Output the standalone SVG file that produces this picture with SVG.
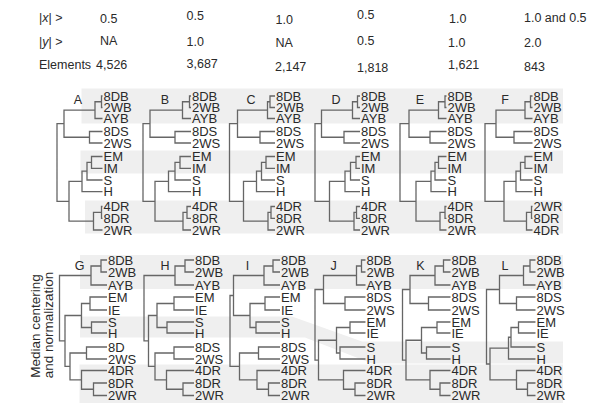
<svg xmlns="http://www.w3.org/2000/svg" width="600" height="412" viewBox="0 0 600 412">
<style>
text{font-family:"Liberation Sans",Arial,sans-serif;fill:#2a2a2a}
.hd{font-size:12.5px}
.lf{font-size:13px}
.pl{font-size:12.5px}
.ax{font-size:13.5px}
.band{fill:#efefef}
.tree{fill:none;stroke:#666;stroke-width:1.3}
</style>
<rect width="600" height="412" fill="#fff"/>
<g id="bands">
<rect class="band" x="81.5" y="88.5" width="481.5" height="35"/>
<rect class="band" x="80.5" y="150.5" width="482.5" height="23"/>
<rect class="band" x="85" y="200.5" width="478" height="33"/>
<rect class="band" x="80" y="255" width="483" height="34"/>
<path class="band" d="M80,316.5 H292 L362,341.5 H563 V363.5 H372 L305,337.5 H80 Z"/>
<rect class="band" x="79.5" y="364.5" width="483.5" height="38.5"/>
</g>
<g id="header" class="hd">
<text x="39" y="21.7">|<tspan font-style="italic">x</tspan>| &gt;</text>
<text x="100" y="22.7">0.5</text>
<text x="186.5" y="19.7">0.5</text>
<text x="275.5" y="23.7">1.0</text>
<text x="357" y="18.7">0.5</text>
<text x="449" y="22.7">1.0</text>
<text x="524" y="21.7">1.0 and 0.5</text>
<text x="39" y="45.7">|<tspan font-style="italic">y</tspan>| &gt;</text>
<text x="100" y="44.7">NA</text>
<text x="186.5" y="45.7">1.0</text>
<text x="275.5" y="46.7">NA</text>
<text x="357" y="44.7">0.5</text>
<text x="448" y="46.7">1.0</text>
<text x="524" y="46.7">2.0</text>
<text x="39" y="68.7">Elements</text>
<text x="96" y="68.7">4,526</text>
<text x="186.5" y="67.7">3,687</text>
<text x="275" y="70.7">2,147</text>
<text x="357" y="71.7">1,818</text>
<text x="448" y="68.7">1,621</text>
<text x="524" y="70.7">843</text>
</g>
<g id="side-label" class="ax" text-anchor="middle">
<text transform="translate(40,326) rotate(-90)">Median centering</text>
<text transform="translate(53,325) rotate(-90)">and normalization</text>
</g>
<g id="connectors" class="tree">
<path id="tree-A" d="M102.5,96 H101.5 V107.5 H102.5 M101.5,101.75 H95 V118.5 H102.5 M102.5,131.5 H89.5 V143 H102.5 M95,110.125 H64 V137.25 H89.5 M102.5,156.5 H91.5 V168.3 H102.5 M91.5,162.4 H87 V180 H102.5 M87,171.2 H82 V191.7 H102.5 M102.5,206.5 H101.5 V218.3 H102.5 M101.5,212.4 H93.5 V230 H102.5 M82,181.45 H69 V221.2 H93.5 M64,123.69 H57 V201.33 H69"/>
<path id="tree-B" d="M191,96 H189.5 V107.5 H191 M189.5,101.75 H182.5 V118.5 H191 M191,131.5 H175 V143 H191 M182.5,110.125 H150 V137.25 H175 M191,156.5 H180 V168.3 H191 M180,162.4 H175 V180 H191 M175,171.2 H168.5 V191.7 H191 M191,206.5 H187 V218.3 H191 M187,212.4 H183 V230 H191 M168.5,181.45 H155 V221.2 H183 M150,123.69 H143 V201.33 H155"/>
<path id="tree-C" d="M275,96 H270 V107.5 H275 M270,101.75 H267.5 V118.5 H275 M275,131.5 H260 V143 H275 M267.5,110.125 H237.5 V137.25 H260 M275,156.5 H266 V168.3 H275 M266,162.4 H261.5 V180 H275 M261.5,171.2 H256.5 V191.7 H275 M275,206.5 H271 V218.3 H275 M271,212.4 H268 V230 H275 M256.5,181.45 H243.5 V221.2 H268 M237.5,123.69 H229.5 V201.33 H243.5"/>
<path id="tree-D" d="M360,96 H357.5 V107.5 H360 M357.5,101.75 H352.5 V118.5 H360 M360,131.5 H344 V143 H360 M352.5,110.125 H321.5 V137.25 H344 M360,156.5 H356 V168.3 H360 M356,162.4 H350.5 V180 H360 M350.5,171.2 H345 V191.7 H360 M360,206.5 H356.5 V218.3 H360 M356.5,212.4 H354 V230 H360 M345,181.45 H329.5 V221.2 H354 M321.5,123.69 H315 V201.33 H329.5"/>
<path id="tree-E" d="M446.5,96 H445 V107.5 H446.5 M445,101.75 H438.5 V118.5 H446.5 M446.5,131.5 H430 V143 H446.5 M438.5,110.125 H409 V137.25 H430 M446.5,156.5 H438.5 V168.3 H446.5 M438.5,162.4 H435 V180 H446.5 M435,171.2 H431 V191.7 H446.5 M446.5,206.5 H445 V218.3 H446.5 M445,212.4 H440 V230 H446.5 M431,181.45 H416 V221.2 H440 M409,123.69 H400 V201.33 H416"/>
<path id="tree-F" d="M532.5,96 H530.5 V107.5 H532.5 M530.5,101.75 H525 V118.5 H532.5 M532.5,131.5 H514 V143 H532.5 M525,110.125 H496 V137.25 H514 M532.5,156.5 H525 V168.3 H532.5 M525,162.4 H520.5 V180 H532.5 M520.5,171.2 H516 V191.7 H532.5 M532.5,206.5 H531.5 V218.3 H532.5 M531.5,212.4 H526.5 V230 H532.5 M516,181.45 H504 V221.2 H526.5 M496,123.69 H485 V201.33 H504"/>
<path id="tree-G" d="M107,260 H101 V272 H107 M101,266 H91 V285 H107 M107,297 H90 V310 H107 M107,322 H91.5 V333 H107 M90,303.5 H81.5 V327.5 H91.5 M107,347 H86.5 V359 H107 M107,383 H93.5 V395.5 H107 M107,370.5 H81.5 V389.25 H93.5 M86.5,353 H70 V379.875 H81.5 M81.5,315.5 H65 V366.44 H70 M91,275.5 H59.5 V340.97 H65"/>
<path id="tree-H" d="M194,260 H185 V272 H194 M185,266 H175 V285 H194 M194,297 H174 V310 H194 M194,322 H167 V333 H194 M174,303.5 H157 V327.5 H167 M194,347 H174 V359 H194 M194,383 H183 V395.5 H194 M194,370.5 H166.5 V389.25 H183 M174,353 H155 V379.875 H166.5 M157,315.5 H148.5 V366.44 H155 M175,275.5 H144 V340.97 H148.5"/>
<path id="tree-I" d="M280,260 H273 V272 H280 M273,266 H264 V285 H280 M280,297 H265 V310 H280 M280,322 H256 V333 H280 M265,303.5 H250 V327.5 H256 M280,347 H258.5 V359 H280 M280,383 H268.5 V395.5 H280 M280,370.5 H257 V389.25 H268.5 M264,275.5 H233.5 V315.5 H250 M258.5,353 H239.5 V379.875 H257 M233.5,295.5 H230 V366.44 H239.5"/>
<path id="tree-J" d="M365.5,260 H361.5 V272 H365.5 M361.5,266 H356.5 V285 H365.5 M365.5,297 H345 V310 H365.5 M356.5,275.5 H323.5 V303.5 H345 M365.5,322 H350 V333 H365.5 M365.5,347 H340 V359 H365.5 M350,327.5 H336.5 V353 H340 M365.5,383 H355 V395.5 H365.5 M365.5,370.5 H343.5 V389.25 H355 M336.5,340.25 H318.5 V379.875 H343.5 M323.5,289.5 H315 V360.06 H318.5"/>
<path id="tree-K" d="M450.5,260 H443.5 V272 H450.5 M443.5,266 H435 V285 H450.5 M450.5,297 H428.5 V310 H450.5 M435,275.5 H410 V303.5 H428.5 M450.5,322 H437 V333 H450.5 M450.5,347 H426.5 V359 H450.5 M437,327.5 H421.5 V353 H426.5 M450.5,383 H440 V395.5 H450.5 M450.5,370.5 H430 V389.25 H440 M421.5,340.25 H406 V379.875 H430 M410,289.5 H402.5 V360.06 H406"/>
<path id="tree-L" d="M535.5,260 H530 V272 H535.5 M530,266 H523.5 V285 H535.5 M535.5,297 H516.5 V310 H535.5 M523.5,275.5 H499.5 V303.5 H516.5 M535.5,322 H518.5 V333 H535.5 M518.5,327.5 H511 V347 H535.5 M511,337.25 H508.5 V359 H535.5 M535.5,383 H527.5 V395.5 H535.5 M535.5,370.5 H516.5 V389.25 H527.5 M508.5,348.125 H490 V379.875 H516.5 M499.5,289.5 H486.5 V364 H490"/>
</g>
<g id="panel-A"><text class="pl" x="78" y="103.5" text-anchor="middle">A</text><text class="lf"><tspan x="103.5" y="100.6">8DB</tspan><tspan x="103.5" y="112.1">2WB</tspan><tspan x="103.5" y="123.1">AYB</tspan><tspan x="103.5" y="136.1">8DS</tspan><tspan x="103.5" y="147.6">2WS</tspan><tspan x="103.5" y="161.1">EM</tspan><tspan x="103.5" y="172.9">IM</tspan><tspan x="103.5" y="184.6">S</tspan><tspan x="103.5" y="196.3">H</tspan><tspan x="103.5" y="211.1">4DR</tspan><tspan x="103.5" y="222.9">8DR</tspan><tspan x="103.5" y="234.6">2WR</tspan></text></g>
<g id="panel-B"><text class="pl" x="165" y="103.5" text-anchor="middle">B</text><text class="lf"><tspan x="192" y="100.6">8DB</tspan><tspan x="192" y="112.1">2WB</tspan><tspan x="192" y="123.1">AYB</tspan><tspan x="192" y="136.1">8DS</tspan><tspan x="192" y="147.6">2WS</tspan><tspan x="192" y="161.1">EM</tspan><tspan x="192" y="172.9">IM</tspan><tspan x="192" y="184.6">S</tspan><tspan x="192" y="196.3">H</tspan><tspan x="192" y="211.1">4DR</tspan><tspan x="192" y="222.9">8DR</tspan><tspan x="192" y="234.6">2WR</tspan></text></g>
<g id="panel-C"><text class="pl" x="251" y="103.5" text-anchor="middle">C</text><text class="lf"><tspan x="276" y="100.6">8DB</tspan><tspan x="276" y="112.1">2WB</tspan><tspan x="276" y="123.1">AYB</tspan><tspan x="276" y="136.1">8DS</tspan><tspan x="276" y="147.6">2WS</tspan><tspan x="276" y="161.1">EM</tspan><tspan x="276" y="172.9">IM</tspan><tspan x="276" y="184.6">S</tspan><tspan x="276" y="196.3">H</tspan><tspan x="276" y="211.1">4DR</tspan><tspan x="276" y="222.9">8DR</tspan><tspan x="276" y="234.6">2WR</tspan></text></g>
<g id="panel-D"><text class="pl" x="336" y="103.5" text-anchor="middle">D</text><text class="lf"><tspan x="361" y="100.6">8DB</tspan><tspan x="361" y="112.1">2WB</tspan><tspan x="361" y="123.1">AYB</tspan><tspan x="361" y="136.1">8DS</tspan><tspan x="361" y="147.6">2WS</tspan><tspan x="361" y="161.1">EM</tspan><tspan x="361" y="172.9">IM</tspan><tspan x="361" y="184.6">S</tspan><tspan x="361" y="196.3">H</tspan><tspan x="361" y="211.1">4DR</tspan><tspan x="361" y="222.9">8DR</tspan><tspan x="361" y="234.6">2WR</tspan></text></g>
<g id="panel-E"><text class="pl" x="420" y="103.5" text-anchor="middle">E</text><text class="lf"><tspan x="447.5" y="100.6">8DB</tspan><tspan x="447.5" y="112.1">2WB</tspan><tspan x="447.5" y="123.1">AYB</tspan><tspan x="447.5" y="136.1">8DS</tspan><tspan x="447.5" y="147.6">2WS</tspan><tspan x="447.5" y="161.1">EM</tspan><tspan x="447.5" y="172.9">IM</tspan><tspan x="447.5" y="184.6">S</tspan><tspan x="447.5" y="196.3">H</tspan><tspan x="447.5" y="211.1">4DR</tspan><tspan x="447.5" y="222.9">8DR</tspan><tspan x="447.5" y="234.6">2WR</tspan></text></g>
<g id="panel-F"><text class="pl" x="505" y="103.5" text-anchor="middle">F</text><text class="lf"><tspan x="533.5" y="100.6">8DB</tspan><tspan x="533.5" y="112.1">2WB</tspan><tspan x="533.5" y="123.1">AYB</tspan><tspan x="533.5" y="136.1">8DS</tspan><tspan x="533.5" y="147.6">2WS</tspan><tspan x="533.5" y="161.1">EM</tspan><tspan x="533.5" y="172.9">IM</tspan><tspan x="533.5" y="184.6">S</tspan><tspan x="533.5" y="196.3">H</tspan><tspan x="533.5" y="211.1">2WR</tspan><tspan x="533.5" y="222.9">8DR</tspan><tspan x="533.5" y="234.6">4DR</tspan></text></g>
<g id="panel-G"><text class="pl" x="79.5" y="270" text-anchor="middle">G</text><text class="lf"><tspan x="108" y="264.6">8DB</tspan><tspan x="108" y="276.6">2WB</tspan><tspan x="108" y="289.6">AYB</tspan><tspan x="108" y="301.6">EM</tspan><tspan x="108" y="314.6">IE</tspan><tspan x="108" y="326.6">S</tspan><tspan x="108" y="337.6">H</tspan><tspan x="108" y="351.6">8D</tspan><tspan x="108" y="363.6">2WS</tspan><tspan x="108" y="375.1">4DR</tspan><tspan x="108" y="387.6">8DR</tspan><tspan x="108" y="400.1">2WR</tspan></text></g>
<g id="panel-H"><text class="pl" x="165" y="270" text-anchor="middle">H</text><text class="lf"><tspan x="195" y="264.6">8DB</tspan><tspan x="195" y="276.6">2WB</tspan><tspan x="195" y="289.6">AYB</tspan><tspan x="195" y="301.6">EM</tspan><tspan x="195" y="314.6">IE</tspan><tspan x="195" y="326.6">S</tspan><tspan x="195" y="337.6">H</tspan><tspan x="195" y="351.6">8DS</tspan><tspan x="195" y="363.6">2WS</tspan><tspan x="195" y="375.1">4DR</tspan><tspan x="195" y="387.6">8DR</tspan><tspan x="195" y="400.1">2WR</tspan></text></g>
<g id="panel-I"><text class="pl" x="247.5" y="270" text-anchor="middle">I</text><text class="lf"><tspan x="281" y="264.6">8DB</tspan><tspan x="281" y="276.6">2WB</tspan><tspan x="281" y="289.6">AYB</tspan><tspan x="281" y="301.6">EM</tspan><tspan x="281" y="314.6">IE</tspan><tspan x="281" y="326.6">S</tspan><tspan x="281" y="337.6">H</tspan><tspan x="281" y="351.6">8DS</tspan><tspan x="281" y="363.6">2WS</tspan><tspan x="281" y="375.1">4DR</tspan><tspan x="281" y="387.6">8DR</tspan><tspan x="281" y="400.1">2WR</tspan></text></g>
<g id="panel-J"><text class="pl" x="333.5" y="270" text-anchor="middle">J</text><text class="lf"><tspan x="366.5" y="264.6">8DB</tspan><tspan x="366.5" y="276.6">2WB</tspan><tspan x="366.5" y="289.6">AYB</tspan><tspan x="366.5" y="301.6">8DS</tspan><tspan x="366.5" y="314.6">2WS</tspan><tspan x="366.5" y="326.6">EM</tspan><tspan x="366.5" y="337.6">IE</tspan><tspan x="366.5" y="351.6">S</tspan><tspan x="366.5" y="363.6">H</tspan><tspan x="366.5" y="375.1">4DR</tspan><tspan x="366.5" y="387.6">8DR</tspan><tspan x="366.5" y="400.1">2WR</tspan></text></g>
<g id="panel-K"><text class="pl" x="420.5" y="270" text-anchor="middle">K</text><text class="lf"><tspan x="451.5" y="264.6">8DB</tspan><tspan x="451.5" y="276.6">2WB</tspan><tspan x="451.5" y="289.6">AYB</tspan><tspan x="451.5" y="301.6">8DS</tspan><tspan x="451.5" y="314.6">2WS</tspan><tspan x="451.5" y="326.6">EM</tspan><tspan x="451.5" y="337.6">IE</tspan><tspan x="451.5" y="351.6">S</tspan><tspan x="451.5" y="363.6">H</tspan><tspan x="451.5" y="375.1">4DR</tspan><tspan x="451.5" y="387.6">8DR</tspan><tspan x="451.5" y="400.1">2WR</tspan></text></g>
<g id="panel-L"><text class="pl" x="505" y="270" text-anchor="middle">L</text><text class="lf"><tspan x="536.5" y="264.6">8DB</tspan><tspan x="536.5" y="276.6">2WB</tspan><tspan x="536.5" y="289.6">AYB</tspan><tspan x="536.5" y="301.6">8DS</tspan><tspan x="536.5" y="314.6">2WS</tspan><tspan x="536.5" y="326.6">EM</tspan><tspan x="536.5" y="337.6">IE</tspan><tspan x="536.5" y="351.6">S</tspan><tspan x="536.5" y="363.6">H</tspan><tspan x="536.5" y="375.1">4DR</tspan><tspan x="536.5" y="387.6">8DR</tspan><tspan x="536.5" y="400.1">2WR</tspan></text></g>
</svg>
